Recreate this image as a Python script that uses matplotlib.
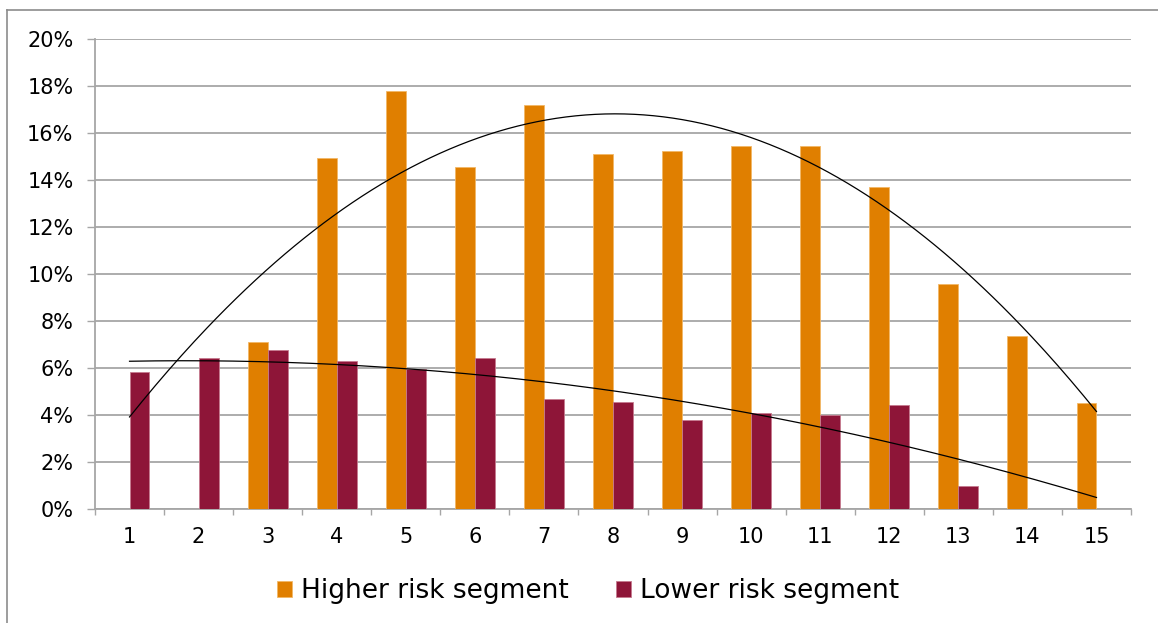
import numpy as np
import matplotlib
matplotlib.use("Agg")
import matplotlib.pyplot as plt
from matplotlib.lines import Line2D

# Segment shares by score band (percent); None = no observations in that band
bands = list(range(1, 16))
higher_risk = [None, None, 7.10, 14.94, 17.78, 14.57, 17.18, 15.11, 15.22, 15.43,
               15.46, 13.70, 9.56, 7.38, 4.51]
lower_risk = [5.83, 6.44, 6.76, 6.30, 5.97, 6.44, 4.69, 4.54, 3.78, 4.07,
              4.02, 4.41, 0.98, None, None]
series_names = ["Higher risk segment", "Lower risk segment"]
y_ticks = [0, 2, 4, 6, 8, 10, 12, 14, 16, 18, 20]

ORANGE = "#E07F00"
MAROON = "#8E1538"
GRID = "#A6A6A6"

plt.rcParams["font.family"] = ["DejaVu Sans"]

W, H = 1158, 623
fig = plt.figure(figsize=(W / 100, H / 100), dpi=100)
ax = fig.add_axes([95 / W, 1 - 509 / H, (1131 - 95) / W, (509 - 39) / H])

x = np.array(bands, dtype=float)
hi = np.array([np.nan if v is None else v for v in higher_risk]) / 100
lo = np.array([np.nan if v is None else v for v in lower_risk]) / 100

bw = 0.289
ax.bar(x - bw / 2, np.nan_to_num(hi), width=bw, color=ORANGE,
       edgecolor="#F2B866", linewidth=0.6, label=series_names[0], zorder=3)
ax.bar(x + bw / 2, np.nan_to_num(lo), width=bw, color=MAROON,
       edgecolor="#C57A8E", linewidth=0.6, label=series_names[1], zorder=3)

# Second-order polynomial trend lines, fitted on the observed bands only
xs = np.linspace(1, 15, 300)
for vals in (hi, lo):
    ok = ~np.isnan(vals)
    coef = np.polyfit(x[ok], vals[ok], 2)
    ax.plot(xs, np.polyval(coef, xs), color="black", lw=0.9, zorder=4)

ax.set_xlim(0.5, 15.5)
ax.set_ylim(0, 0.20)
ax.set_yticks([t / 100 for t in y_ticks])
ax.set_yticklabels([f"{t}%" for t in y_ticks])
ax.yaxis.grid(True, color=GRID, lw=1.3, zorder=0)
ax.set_axisbelow(True)

# category boundaries carry the tick marks, labels sit at the centres
ax.set_xticks(np.arange(0.5, 15.6, 1.0))
ax.set_xticklabels([])
ax.set_xticks(x, minor=True)
ax.set_xticklabels([str(b) for b in bands], minor=True)
ax.tick_params(axis="x", which="major", length=4.5, width=1.0, color=GRID, direction="out")
ax.tick_params(axis="x", which="minor", length=0, pad=13, labelsize=15)
ax.tick_params(axis="y", length=5.5, width=1.0, color=GRID, pad=10, labelsize=15)

for side in ("top", "right"):
    ax.spines[side].set_visible(False)
for side in ("left", "bottom"):
    ax.spines[side].set_color(GRID)
    ax.spines[side].set_linewidth(1.3)

# outer chart-area frame (top and left edges)
fig.add_artist(Line2D([7 / W, 1.0], [1 - 9.5 / H, 1 - 9.5 / H], color="#8C8C8C", lw=1.2))
fig.add_artist(Line2D([7 / W, 7 / W], [0.0, 1 - 9.5 / H], color="#8C8C8C", lw=1.2))

ax.legend(loc="center", bbox_to_anchor=(588 / W, 1 - 591 / H),
          bbox_transform=fig.transFigure, ncol=2, frameon=False,
          fontsize=19, handlelength=0.55, handleheight=0.55,
          handletextpad=0.35, columnspacing=1.8)

fig.savefig("out.png", dpi=100)
